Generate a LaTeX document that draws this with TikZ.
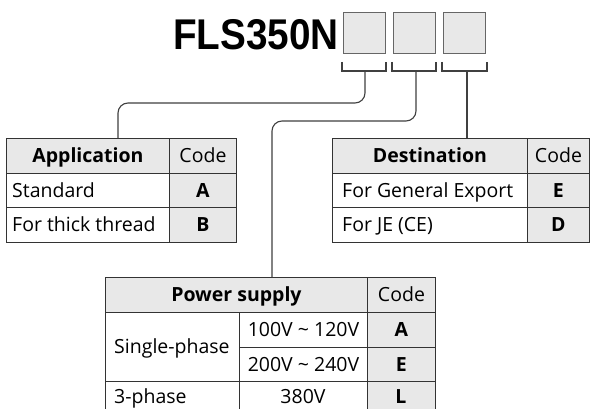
\documentclass[tikz,border=0pt]{standalone}
\usepackage{fontspec}
\usetikzlibrary{calc}
\setmainfont{Open Sans}
\newfontfamily\titlefont{Liberation Sans}
\begin{document}
\begin{tikzpicture}[x=1pt,y=-1pt,
  tline/.style={draw=black!80, line width=0.9pt},
  conn/.style={draw=black!75, line width=1.1pt},
  cellw/.style={tline, fill=white, inner sep=0pt, anchor=north west},
  cellg/.style={tline, fill=gray!18, inner sep=0pt, anchor=north west},
  keybox/.style={draw=gray!80!black, line width=0.9pt, fill=gray!18, minimum width=42pt, minimum height=41pt, inner sep=0pt},
  txt/.style={inner sep=0pt, anchor=base, font=\fontsize{19.5}{21}\selectfont},
  txtl/.style={txt, anchor=base west},
  hd/.style={txt, font=\fontsize{19.5}{21}\selectfont\bfseries}
]
\clip (0,0) rectangle (591,409);
\fill[white] (0,0) rectangle (591,409);

% title and key boxes
\node[inner sep=0pt, anchor=base west] (title) at (173,50)
  {\scalebox{0.9}[1]{\fontsize{43}{43}\selectfont\titlefont\bfseries FLS350N}};
\node[keybox] (k1) at (364,32.5) {};
\node[keybox] (k2) at (414,32.5) {};
\node[keybox] (k3) at (464,32.5) {};

% brackets
\draw[conn] (342,62) -- (342,71) -- (386,71) -- (386,62);
\draw[conn] (392,62) -- (392,71) -- (436,71) -- (436,62);
\draw[conn] (442,62) -- (442,71) -- (487,71) -- (487,62);
\coordinate (s1) at (365,71);
\coordinate (s2) at (416,71);
\coordinate (s3) at (467,71);

% Application table
\node[cellg, minimum width=163pt, minimum height=35pt] (appH) at (6,138) {};
\node[cellg, minimum width=67pt, minimum height=35pt] (appHc) at (169,138) {};
\node[cellw, minimum width=163pt, minimum height=34pt] (appA) at (6,173) {};
\node[cellg, minimum width=67pt, minimum height=34pt] (appAc) at (169,173) {};
\node[cellw, minimum width=163pt, minimum height=35pt] (appB) at (6,207) {};
\node[cellg, minimum width=67pt, minimum height=35pt] (appBc) at (169,207) {};
\node[hd] (t-app) at ($(appH.center)+(0,7)$) {Application};
\node[txt] (t-appc) at ($(appHc.center)+(0,7)$) {Code};
\node[txtl] (t-std) at (12,197) {Standard};
\node[hd] (t-a1) at ($(appAc.center)+(0,7)$) {A};
\node[txtl] (t-thk) at (12,231.5) {For thick thread};
\node[hd] (t-b1) at ($(appBc.center)+(0,7)$) {B};
\coordinate (ain) at (118,138);

% Destination table
\node[cellg, minimum width=195pt, minimum height=35pt] (dH) at (332,138) {};
\node[cellg, minimum width=62pt, minimum height=35pt] (dHc) at (527,138) {};
\node[cellw, minimum width=195pt, minimum height=34pt] (dE) at (332,173) {};
\node[cellg, minimum width=62pt, minimum height=34pt] (dEc) at (527,173) {};
\node[cellw, minimum width=195pt, minimum height=35pt] (dD) at (332,207) {};
\node[cellg, minimum width=62pt, minimum height=35pt] (dDc) at (527,207) {};
\node[hd] (t-dst) at ($(dH.center)+(0,7)$) {Destination};
\node[txt] (t-dstc) at ($(dHc.center)+(0,7)$) {Code};
\node[txtl] (t-gen) at (342,197) {For General Export};
\node[hd] (t-e1) at ($(dEc.center)+(0,7)$) {E};
\node[txtl] (t-je) at (342,231.5) {For JE (CE)};
\node[hd] (t-d1) at ($(dDc.center)+(0,7)$) {D};
\coordinate (din) at (467,138);

% Power supply table
\node[cellg, minimum width=262pt, minimum height=35pt] (pH) at (105,277) {};
\node[cellg, minimum width=68pt, minimum height=35pt] (pHc) at (367,277) {};
\node[cellw, minimum width=134pt, minimum height=69pt] (pS) at (105,312) {};
\node[cellw, minimum width=128pt, minimum height=35pt] (pA) at (239,312) {};
\node[cellg, minimum width=68pt, minimum height=35pt] (pAc) at (367,312) {};
\node[cellw, minimum width=128pt, minimum height=34pt] (pE) at (239,347) {};
\node[cellg, minimum width=68pt, minimum height=34pt] (pEc) at (367,347) {};
\node[cellw, minimum width=134pt, minimum height=35pt] (p3) at (105,381) {};
\node[cellw, minimum width=128pt, minimum height=35pt] (pL) at (239,381) {};
\node[cellg, minimum width=68pt, minimum height=35pt] (pLc) at (367,381) {};
\node[hd] (t-pow) at ($(pH.center)+(0,7)$) {Power supply};
\node[txt] (t-powc) at ($(pHc.center)+(0,7)$) {Code};
\node[txtl] (t-single) at (114,353.5) {Single-phase};
\node[txt] (t-v1) at ($(pA.center)+(0,7)$) {100V \textasciitilde{} 120V};
\node[hd] (t-a2) at ($(pAc.center)+(0,7)$) {A};
\node[txt] (t-v2) at ($(pE.center)+(0,7)$) {200V \textasciitilde{} 240V};
\node[hd] (t-e2) at ($(pEc.center)+(0,7)$) {E};
\node[txtl] (t-3ph) at (114,403) {3-phase};
\node[txt] (t-v3) at (303,403) {380V};
\node[hd] (t-l) at (401,403) {L};
\coordinate (pin) at (272,277);

% connectors
\draw[conn, rounded corners=10pt] (s1) |- ($(ain)+(0,-35)$) -- (ain);
\draw[conn, rounded corners=10pt] (s2) |- ($(pin)+(0,-156)$) -- (pin);
\draw[conn] (s3) -- (din);
\end{tikzpicture}
\end{document}
